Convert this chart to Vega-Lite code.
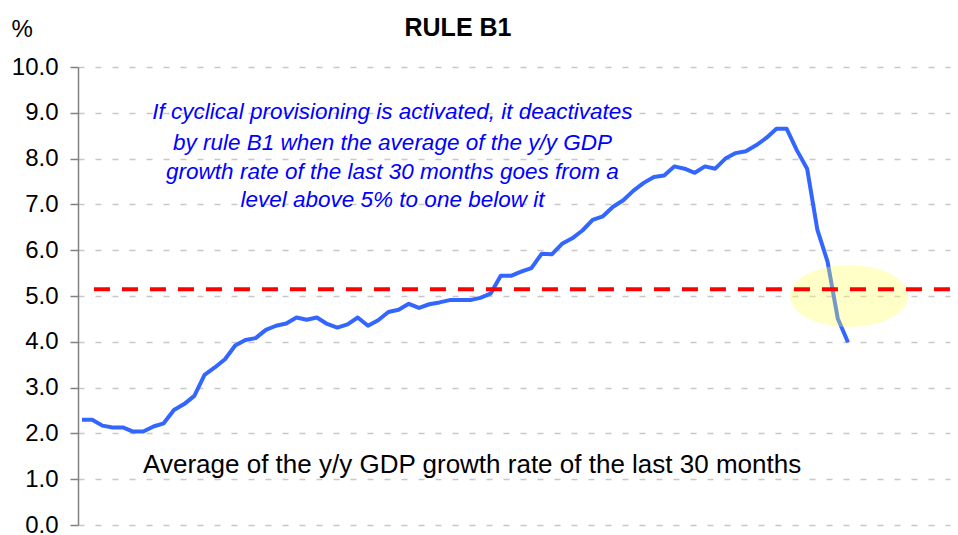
{
  "$schema": "https://vega.github.io/schema/vega-lite/v6.json",
  "width": 872,
  "height": 458,
  "autosize": {"type": "none"},
  "padding": {"left": 78, "top": 67, "right": 8, "bottom": 10},
  "background": "white",
  "config": {
    "view": {"stroke": null},
    "font": "Liberation Sans",
    "text": {"font": "Liberation Sans"}
  },
  "title": {
    "text": "RULE B1",
    "font": "Liberation Sans",
    "fontSize": 25,
    "fontWeight": "bold",
    "color": "black",
    "anchor": "middle",
    "frame": "group",
    "dx": -56,
    "offset": -24
  },
  "datasets": {
    "gdp": [
      {"t": 1, "v": 2.30}, {"t": 2, "v": 2.30}, {"t": 3, "v": 2.17}, {"t": 4, "v": 2.13},
      {"t": 5, "v": 2.13}, {"t": 6, "v": 2.04}, {"t": 7, "v": 2.04}, {"t": 8, "v": 2.15},
      {"t": 9, "v": 2.22}, {"t": 10, "v": 2.51}, {"t": 11, "v": 2.64}, {"t": 12, "v": 2.82},
      {"t": 13, "v": 3.28}, {"t": 14, "v": 3.44}, {"t": 15, "v": 3.62}, {"t": 16, "v": 3.92},
      {"t": 17, "v": 4.04}, {"t": 18, "v": 4.08}, {"t": 19, "v": 4.26}, {"t": 20, "v": 4.35},
      {"t": 21, "v": 4.40}, {"t": 22, "v": 4.53}, {"t": 23, "v": 4.48}, {"t": 24, "v": 4.53},
      {"t": 25, "v": 4.39}, {"t": 26, "v": 4.31}, {"t": 27, "v": 4.38}, {"t": 28, "v": 4.53},
      {"t": 29, "v": 4.35}, {"t": 30, "v": 4.47}, {"t": 31, "v": 4.65}, {"t": 32, "v": 4.70},
      {"t": 33, "v": 4.83}, {"t": 34, "v": 4.74}, {"t": 35, "v": 4.82}, {"t": 36, "v": 4.86},
      {"t": 37, "v": 4.91}, {"t": 38, "v": 4.91}, {"t": 39, "v": 4.91}, {"t": 40, "v": 4.96},
      {"t": 41, "v": 5.05}, {"t": 42, "v": 5.44}, {"t": 43, "v": 5.44}, {"t": 44, "v": 5.53},
      {"t": 45, "v": 5.61}, {"t": 46, "v": 5.92}, {"t": 47, "v": 5.91}, {"t": 48, "v": 6.14},
      {"t": 49, "v": 6.26}, {"t": 50, "v": 6.43}, {"t": 51, "v": 6.66}, {"t": 52, "v": 6.74},
      {"t": 53, "v": 6.95}, {"t": 54, "v": 7.09}, {"t": 55, "v": 7.30}, {"t": 56, "v": 7.47},
      {"t": 57, "v": 7.60}, {"t": 58, "v": 7.63}, {"t": 59, "v": 7.83}, {"t": 60, "v": 7.78},
      {"t": 61, "v": 7.69}, {"t": 62, "v": 7.83}, {"t": 63, "v": 7.78}, {"t": 64, "v": 8.00},
      {"t": 65, "v": 8.12}, {"t": 66, "v": 8.16}, {"t": 67, "v": 8.29}, {"t": 68, "v": 8.45},
      {"t": 69, "v": 8.65}, {"t": 70, "v": 8.65}, {"t": 71, "v": 8.18}, {"t": 72, "v": 7.78},
      {"t": 73, "v": 6.45}, {"t": 74, "v": 5.75}, {"t": 75, "v": 4.51}, {"t": 76, "v": 3.99}
    ],
    "threshold": [{"t1": 2.17, "t2": 86, "v": 5.15}],
    "highlight": [{"t": 76.1, "v": 5.0}],
    "notes": [
      {"t": 31.4, "v": 9.02, "label": "If cyclical provisioning is activated, it deactivates"},
      {"t": 31.4, "v": 8.35, "label": "by rule B1 when the average of the y/y GDP"},
      {"t": 31.4, "v": 7.70, "label": "growth rate of the last 30 months goes from a"},
      {"t": 31.4, "v": 7.09, "label": "level above 5% to one below it"}
    ],
    "caption": [{"t": 39.2, "v": 1.31, "label": "Average of the y/y GDP growth rate of the last 30 months"}]
  },
  "layer": [
    {
      "data": {"name": "gdp"},
      "mark": {"type": "line", "color": "#3366FF", "strokeWidth": 4, "strokeJoin": "round"},
      "encoding": {
        "x": {"field": "t", "type": "quantitative", "scale": {"domain": [0.608, 85.99], "nice": false, "zero": false}, "axis": null},
        "y": {
          "field": "v", "type": "quantitative",
          "scale": {"domain": [0, 10], "nice": false},
          "axis": {
            "values": [0, 1, 2, 3, 4, 5, 6, 7, 8, 9, 10],
            "format": ".1f",
            "title": "%",
            "titleAngle": 0,
            "titleAlign": "left",
            "titleBaseline": "alphabetic",
            "titleX": -67,
            "titleY": -31,
            "titleFont": "Liberation Sans",
            "titleFontSize": 24,
            "titleFontWeight": "normal",
            "titleColor": "black",
            "labelFont": "Liberation Sans",
            "labelFontSize": 24,
            "labelColor": "black",
            "labelPadding": 12,
            "tickSize": 8,
            "tickColor": "#808080",
            "tickWidth": 1.5,
            "domainColor": "#808080",
            "domainWidth": 1.5,
            "grid": true,
            "gridColor": "#c8c8c8",
            "gridDash": [6, 11],
            "gridWidth": 1.5
          }
        }
      }
    },
    {
      "data": {"name": "highlight"},
      "mark": {
        "type": "point",
        "shape": "M-1,0A1,0.525,0,1,0,1,0A1,0.525,0,1,0,-1,0Z",
        "size": 13924,
        "filled": true,
        "fill": "#FFFF55",
        "fillOpacity": 0.33,
        "strokeWidth": 0
      },
      "encoding": {
        "x": {"field": "t", "type": "quantitative"},
        "y": {"field": "v", "type": "quantitative"}
      }
    },
    {
      "data": {"name": "threshold"},
      "mark": {"type": "rule", "color": "#FF0000", "strokeWidth": 4, "strokeDash": [16, 12]},
      "encoding": {
        "x": {"field": "t1", "type": "quantitative"},
        "x2": {"field": "t2"},
        "y": {"field": "v", "type": "quantitative"}
      }
    },
    {
      "data": {"name": "notes"},
      "mark": {"type": "text", "font": "Liberation Sans", "fontSize": 22.5, "fontStyle": "italic", "color": "#0000FF", "align": "center", "baseline": "middle"},
      "encoding": {
        "x": {"field": "t", "type": "quantitative"},
        "y": {"field": "v", "type": "quantitative"},
        "text": {"field": "label"}
      }
    },
    {
      "data": {"name": "caption"},
      "mark": {"type": "text", "font": "Liberation Sans", "fontSize": 26, "color": "black", "align": "center", "baseline": "middle"},
      "encoding": {
        "x": {"field": "t", "type": "quantitative"},
        "y": {"field": "v", "type": "quantitative"},
        "text": {"field": "label"}
      }
    }
  ]
}
